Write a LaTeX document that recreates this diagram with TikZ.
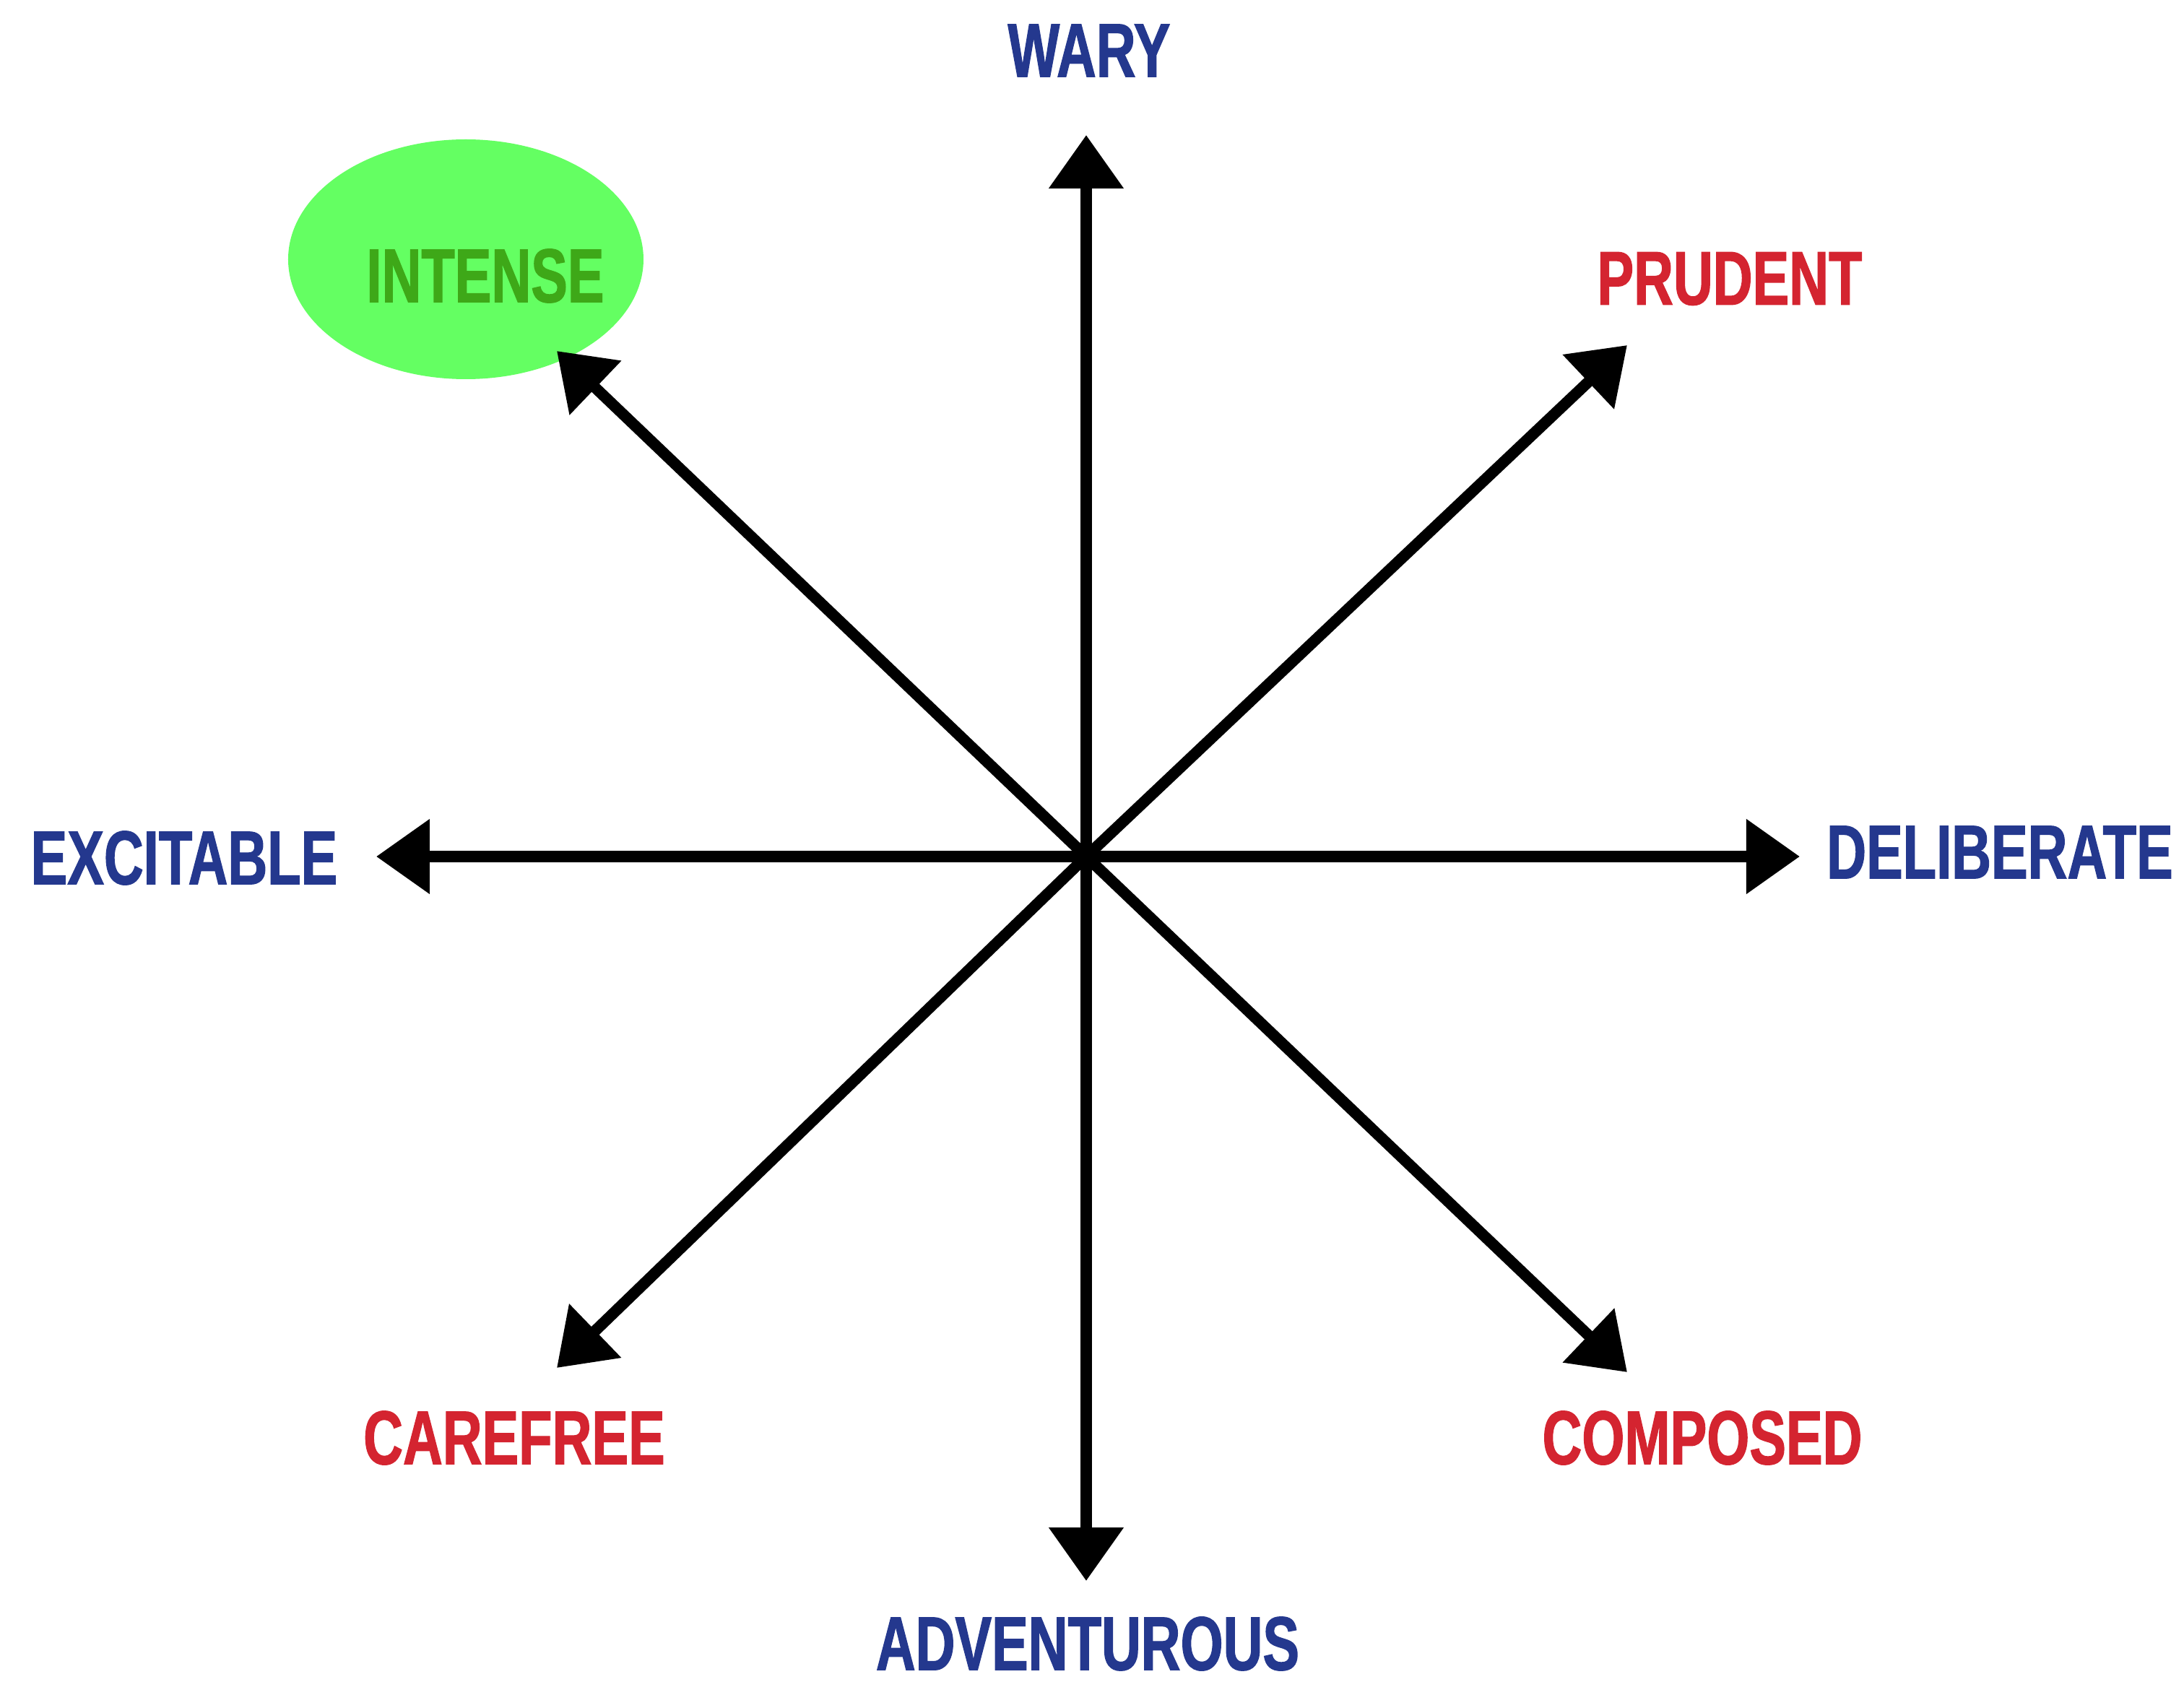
\documentclass[tikz,border=0pt]{standalone}
\usepackage{fontspec}
\newfontfamily\lblfont{Liberation Sans}[FakeStretch=0.72, FakeBold=1.2]
\usepackage{tikz}
\usetikzlibrary{arrows.meta, shapes.geometric}

\definecolor{axblue}{RGB}{36,56,142}
\definecolor{axred}{RGB}{212,36,48}
\definecolor{axgreen}{RGB}{62,168,24}
\definecolor{hlgreen}{RGB}{100,255,98}

\begin{document}
\begin{tikzpicture}[
  >={Triangle[length=0.74cm, width=1.0cm]}, line width=4.4pt,
  lbl/.style={inner sep=0pt, font=\lblfont\bfseries\fontsize{30}{36}\selectfont},
  hilite/.style={ellipse, fill=hlgreen, draw=none, inner sep=0pt,
                 minimum width=4.92cm, minimum height=3.32cm}]

  \useasboundingbox (-15.04,-11.43) rectangle (15.20,11.86);

  % resaltado
  \node[hilite] (hl) at (-8.59,8.27) {};

  % ejes
  \coordinate (c)  at (0,0);
  \coordinate (n)  at (0,9.99);
  \coordinate (s)  at (0,-10.03);
  \coordinate (w)  at (-9.83,0);
  \coordinate (e)  at (9.88,0);
  \coordinate (ne) at (7.49,7.08);
  \coordinate (nw) at (-7.33,7.00);
  \coordinate (sw) at (-7.33,-7.08);
  \coordinate (se) at (7.49,-7.14);
  \foreach \t in {n,s,w,e,ne,nw,sw,se}
    \draw[->] (c) -- (\t);

  % etiquetas
  \node[lbl, text=axblue]  (wary) at (0.04,11.16)  {WARY};
  \node[lbl, text=axblue]  (adv)  at (0.02,-10.90) {ADVENTUROUS};
  \node[lbl, text=axblue]  (exc)  at (-12.49,-0.02) {EXCITABLE};
  \node[lbl, text=axblue]  (del)  at (12.65,0.06)  {DELIBERATE};
  \node[lbl, text=axred]   (pru)  at (8.91,8.00)   {PRUDENT};
  \node[lbl, text=axred]   (care) at (-7.92,-8.05) {CAREFREE};
  \node[lbl, text=axred]   (comp) at (8.53,-8.05)  {COMPOSED};
  \node[lbl, text=axgreen] (int)  at (-8.32,8.04)  {INTENSE};
\end{tikzpicture}
\end{document}
